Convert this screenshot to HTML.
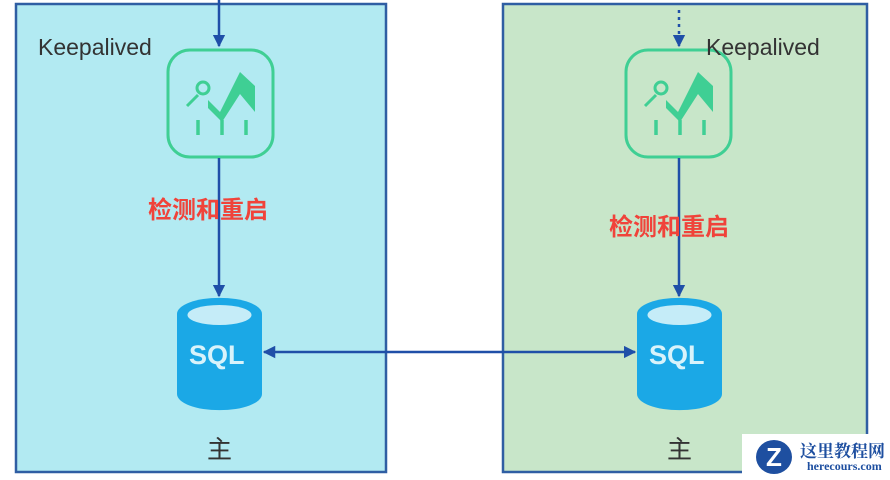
<!DOCTYPE html>
<html><head><meta charset="utf-8"><style>
body{margin:0;width:890px;height:480px;background:#fff;overflow:hidden;position:relative;font-family:"Liberation Sans","Noto Sans CJK SC",sans-serif}
.t{position:absolute;white-space:nowrap}
</style></head><body>
<svg width="890" height="480" style="position:absolute;left:0;top:0">
<defs>
<marker id="a" viewBox="0 0 10 10" refX="9" refY="5" markerWidth="5" markerHeight="5" orient="auto-start-reverse"><path d="M0,0L10,5L0,10z" fill="#1f4fa8"/></marker>
<g id="ic">
<rect x="0" y="0" width="105" height="107" rx="22" fill="none" stroke="#3fcf94" stroke-width="3"/>
<circle cx="35" cy="38" r="6" fill="none" stroke="#3fcf94" stroke-width="3"/>
<line x1="30" y1="45" x2="19" y2="56" stroke="#3fcf94" stroke-width="3"/>
<path d="M40,50L52,62L72,22L87,36V62L72,44L54,72L40,58z" fill="#3fcf94"/>
<line x1="30" y1="70" x2="30" y2="85" stroke="#3fcf94" stroke-width="3.5"/>
<line x1="54" y1="70" x2="54" y2="85" stroke="#3fcf94" stroke-width="3.5"/>
<line x1="78" y1="70" x2="78" y2="85" stroke="#3fcf94" stroke-width="3.5"/>
</g>
<g id="db">
<path d="M0,16 A42,16 0 0 1 85,16 V96 A42,16 0 0 1 0,96z" fill="#1ba8e6"/>
<ellipse cx="42.5" cy="17" rx="32" ry="10" fill="#c5ecf8"/>
</g>
</defs>
<rect x="16" y="4" width="370" height="468" fill="#b2eaf2" stroke="#2f5ea3" stroke-width="2.5"/>
<rect x="503" y="4" width="364" height="468" fill="#c8e6c9" stroke="#2f5ea3" stroke-width="2.5"/>
<line x1="219" y1="0" x2="219" y2="46" stroke="#1f4fa8" stroke-width="2.5" marker-end="url(#a)"/>
<line x1="679" y1="10" x2="679" y2="46" stroke="#1f4fa8" stroke-width="2.5" stroke-dasharray="3,4" marker-end="url(#a)"/>
<use href="#ic" x="168" y="50"/>
<use href="#ic" x="626" y="50"/>
<line x1="219" y1="158" x2="219" y2="296" stroke="#1f4fa8" stroke-width="2.5" marker-end="url(#a)"/>
<line x1="679" y1="158" x2="679" y2="296" stroke="#1f4fa8" stroke-width="2.5" marker-end="url(#a)"/>
<use href="#db" x="177" y="298"/>
<use href="#db" x="637" y="298"/>
<line x1="264" y1="352" x2="635" y2="352" stroke="#1f4fa8" stroke-width="2.5" marker-start="url(#a)" marker-end="url(#a)"/>
</svg>
<div class="t" style="left:38px;top:34px;font-size:23px;color:#333">Keepalived</div>
<div class="t" style="left:706px;top:34px;font-size:23px;color:#333">Keepalived</div>
<div class="t" style="left:148px;top:190px;font-size:24px;font-weight:bold;color:#f0433a">检测和重启</div>
<div class="t" style="left:609px;top:207px;font-size:24px;font-weight:bold;color:#f0433a">检测和重启</div>
<div class="t" style="left:189px;top:340px;font-size:27px;font-weight:bold;color:#d8f3fb">SQL</div>
<div class="t" style="left:649px;top:340px;font-size:27px;font-weight:bold;color:#d8f3fb">SQL</div>
<div class="t" style="left:207px;top:430px;font-size:25px;color:#333">主</div>
<div class="t" style="left:667px;top:430px;font-size:25px;color:#333">主</div>
<div style="position:absolute;left:742px;top:434px;width:148px;height:46px;background:#fff"></div>
<div style="position:absolute;left:756px;top:440px;width:36px;height:34px;border-radius:50%;background:#1e4fa0;color:#fff;font-weight:bold;font-size:26px;text-align:center;line-height:34px">Z</div>
<div class="t" style="left:800px;top:437px;font-size:17px;font-weight:bold;color:#1e4fa0;font-family:'Noto Serif CJK SC',serif">这里教程网</div>
<div class="t" style="left:807px;top:459px;font-size:12px;font-weight:bold;color:#1e4fa0;font-family:'Liberation Serif',serif">herecours.com</div>
</body></html>
